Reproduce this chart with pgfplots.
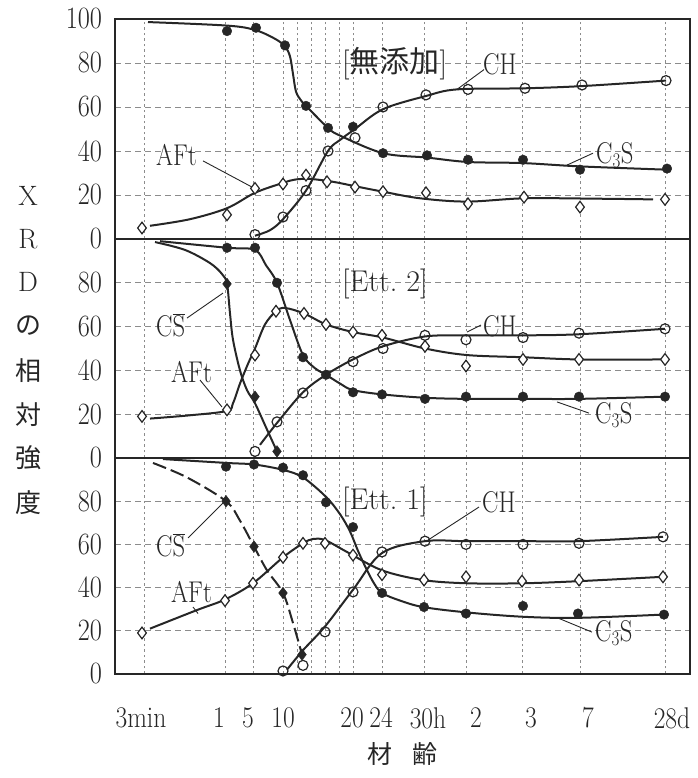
\documentclass[border=0pt]{standalone}
\usepackage{pgfplots}
\pgfplotsset{compat=1.18}
\usepackage{fontspec}
\newfontfamily\cjk{Noto Sans CJK JP}
\definecolor{ink}{HTML}{262626}
\definecolor{gridc}{HTML}{8C8C8C}
\tikzset{
  lab/.style={font=\fontsize{30}{32}\selectfont, text=ink, inner sep=0pt, anchor=west, xscale=0.82},
  tit/.style={font=\fontsize{30}{32}\selectfont, text=ink, inner sep=0pt, anchor=west},
  lead/.style={ink, line width=0.9pt},
}
\pgfplotsset{
  panel/.style={
    scale only axis, width=575pt, anchor=south west,
    xmin=115, xmax=690, ymin=0, ymax=100,
    axis line style={ink, line width=1.1pt},
    xtick={144,225,253,283,297,311,325,339,353,382,424,466,522,580,665},
    xticklabels={},
    xmajorgrids, ymajorgrids,
    x grid style={gridc, line width=0.8pt, dash pattern=on 2.5pt off 3pt},
    y grid style={gridc, line width=0.8pt, dash pattern=on 6pt off 4pt},
    major tick length=0pt,
    /pgf/number format/assume math mode=true,
    yticklabel style={font=\fontsize{31}{33}\selectfont, xscale=0.85, text=ink, inner sep=0pt, xshift=-15pt, anchor=east},
  },
  curve/.style={no marks, smooth, tension=0.55, ink, line width=2pt},
  c3s/.style={only marks, mark=*, mark size=4.8pt, mark options={fill=ink, draw=ink}},
  ch/.style={only marks, mark=o, mark size=5pt, mark options={fill=white, draw=ink, line width=1.2pt}},
  aft/.style={only marks, mark=diamond*, mark size=5.8pt, mark options={fill=white, draw=ink, line width=1.2pt}},
  csb/.style={only marks, mark=diamond*, mark size=5.8pt, mark options={fill=ink, draw=ink}},
}
\begin{document}
\begin{tikzpicture}
% ---------------- top panel: 無添加 ----------------
\begin{axis}[panel, at={(115pt,539pt)}, height=220pt, ytick={0,20,40,60,80,100}]
\addplot[curve] coordinates {(148,98.6) (227,97) (255,95) (275,91) (285,87.5) (290,83) (293,75) (296,67) (301,63) (306,60.5) (328,50.5) (340,47) (383,39) (427,37) (468,35) (523,34.5) (580,33) (667,31.5)};
\addplot[curve] coordinates {(255,1.5) (270,4) (283,9) (306,22) (328,40) (340,45) (355,50) (383,59) (426,65) (457,68) (525,68.5) (582,69.5) (666,72)};
\addplot[curve] coordinates {(150,6) (190,9) (227,14) (255,21) (283,25.5) (295,27) (310,27.3) (333,26) (355,24) (383,21.5) (420,18.5) (467,17) (525,18.5) (600,18.3) (653,18)};
\addplot[c3s] coordinates {(227,94.5) (256,96) (285,88) (306,60.5) (328,50.5) (353,51) (383,39) (427,38) (468,36) (523,36) (580,31.5) (667,32)};
\addplot[ch] coordinates {(255,2) (283,10) (306,22) (328,40) (355,46) (383,60) (426,65.5) (468,68) (525,68.5) (582,70) (666,72)};
\addplot[aft] coordinates {(142,5) (227,11) (255,23) (283,25) (306,29) (327,26) (355,23.6) (383,21.5) (426,21) (468,16) (524,19) (580,14.5) (665,18)};
\node[tit] at (axis cs:342,79.5) {[{\cjk 無添加}]};
\node[lab] at (axis cs:483,79.5) {CH};
\draw[lead] (axis cs:484,77) -- (axis cs:457,68);
\node[lab] at (axis cs:596,38.2) {C$_3$S};
\draw[lead] (axis cs:593,39) -- (axis cs:567,33.6);
\node[lab] at (axis cs:156,38.2) {AFt};
\draw[lead] (axis cs:203,35.5) -- (axis cs:252,23.6);
\end{axis}
% ---------------- middle panel: Ett.2 ----------------
\begin{axis}[panel, at={(115pt,320pt)}, height=219pt, ytick={0,20,40,60,80}]
\addplot[curve] coordinates {(160,99) (227,96) (255,95) (266,88) (277,80) (290,63) (303,47) (315,41) (326,38) (340,34) (353,31) (383,29) (425,27.5) (466,27) (523,27) (579,27) (665,28)};
\addplot[curve] coordinates {(155,98.6) (185,95) (210,89) (222,84) (227,79.5) (230,66) (233,54) (240,40) (247,31) (255,25) (266,14) (277,3)};
\addplot[curve] coordinates {(150,18) (190,19.5) (227,21.5) (233,25) (240,34) (248,43) (255,50) (265,61) (276,67) (285,68.5) (304,66) (326,61) (353,57.5) (383,55) (425,50) (467,47) (523,46) (579,45) (665,45)};
\addplot[curve] coordinates {(260,6) (277,16) (303,30) (326,38) (353,45) (383,51) (425,55.5) (466,56) (523,56) (579,56.5) (665,59)};
\addplot[c3s] coordinates {(227,96) (255,96) (277,80) (303,46) (326,38) (353,30) (382,29) (425,27) (466,28) (523,28) (579,28) (665,28)};
\addplot[csb] coordinates {(227,79.5) (255,28) (277,3)};
\addplot[aft] coordinates {(142,19) (227,22) (255,47) (276,67) (304,66) (326,61) (353,57.5) (382,56) (425,51) (466,42) (523,45) (579,45) (665,45)};
\addplot[ch] coordinates {(255,3) (277,16.5) (303,29.7) (353,44) (383,50) (425,56) (466,54) (523,55) (579,57) (665,59)};
\node[tit] at (axis cs:342,79.5) {[Ett.\ 2]};
\node[lab] at (axis cs:483,60.3) {CH};
\draw[lead] (axis cs:467,57.5) -- (axis cs:481,60.7);
\node[lab] at (axis cs:595,19.6) {C$_3$S};
\draw[lead] (axis cs:589,20.5) -- (axis cs:557,25.6);
\node[lab] at (axis cs:156,60.7) {C$\overline{\mathrm{S}}$};
\draw[lead] (axis cs:187,63.9) -- (axis cs:223,75.3);
\node[lab] at (axis cs:171,39.3) {AFt};
\draw[lead] (axis cs:200,35.6) -- (axis cs:222,23.3);
\end{axis}
% ---------------- bottom panel: Ett.1 ----------------
\begin{axis}[panel, at={(115pt,104pt)}, height=216pt, ytick={0,20,40,60,80},
  extra x ticks={141,219,248,283,352,381,428,476,531,588,672},
  extra x tick labels={3min,1,5,10,20,24,30h,2,3,7,28d},
  extra x tick style={grid=none, major tick length=0pt,
    xticklabel style={font=\fontsize{30}{32}\selectfont, xscale=0.85, text=ink, inner sep=0pt, anchor=north, yshift=-33pt}}]
\addplot[curve] coordinates {(163,99.5) (227,97.7) (254,97) (283,94.5) (303,91) (326,82) (340,74) (350,66) (358,57) (366,49) (374,42) (382,37.5) (400,34) (423,31) (467,28.5) (523,26.5) (578,26) (663,27.5)};
\addplot[curve, dash pattern=on 14pt off 5pt] coordinates {(153,97.7) (187,91) (226,80) (240,71) (254,59) (267,48) (283,37.5) (293,23.6) (302,9)};
\addplot[curve] coordinates {(150,21) (197,29.6) (225,34.5) (253,42) (283,54) (303,60.5) (313,62.5) (325,62) (347,56.5) (382,48) (423,43.5) (467,42) (523,42) (580,43) (663,45)};
\addplot[curve] coordinates {(287,2) (303,11) (325,22) (353,39) (382,56) (425,61.5) (466,61.5) (523,61.5) (579,61.5) (663,63.5)};
\addplot[c3s] coordinates {(226,96) (254,97) (283,95.5) (303,92) (326,79.5) (353,68) (382,37.5) (424,31) (466,28) (523,31.5) (578,28) (664,27.5)};
\addplot[csb] coordinates {(226,80) (254,59) (283,37.5) (302,9)};
\addplot[aft] coordinates {(142,19) (225,34) (253,42) (283,54) (303,60.5) (325,60.5) (353,55) (382,46) (424,43.5) (466,45) (522,43) (579,43.5) (663,45)};
\addplot[ch] coordinates {(283,1.4) (303,4) (325,19.5) (353,38) (382,56.5) (425,61.5) (466,60) (523,60) (579,60.5) (663,63.5)};
\node[tit] at (axis cs:342,79.6) {[Ett.\ 1]};
\node[lab] at (axis cs:482,79.6) {CH};
\draw[lead] (axis cs:479,77.3) -- (axis cs:428,62);
\node[lab] at (axis cs:595,19) {C$_3$S};
\draw[lead] (axis cs:592,19.4) -- (axis cs:558,25.9);
\node[lab] at (axis cs:156,59.7) {C$\overline{\mathrm{S}}$};
\draw[lead] (axis cs:188,63) -- (axis cs:223,79.2);
\node[lab] at (axis cs:171,38) {AFt};
\draw[lead] (axis cs:193,31) -- (axis cs:198,28);
\end{axis}
% ---------------- axis titles ----------------
\foreach \ch/\yy in {X/582,R/539,D/496}
  \node[font=\fontsize{28}{30}\selectfont, text=ink] at (28pt,\yy pt) {\ch};
\foreach \ch/\yy in {の/452,相/407,対/363,強/320,度/275}
  \node[font=\fontsize{26}{28}\selectfont\cjk, text=ink] at (28pt,\yy pt) {\ch};
\node[font=\fontsize{25}{27}\selectfont\cjk, text=ink] at (402pt,24pt) {材\hspace{20pt}齢};
\useasboundingbox (0,0) rectangle (697pt,778pt);
\end{tikzpicture}
\end{document}
